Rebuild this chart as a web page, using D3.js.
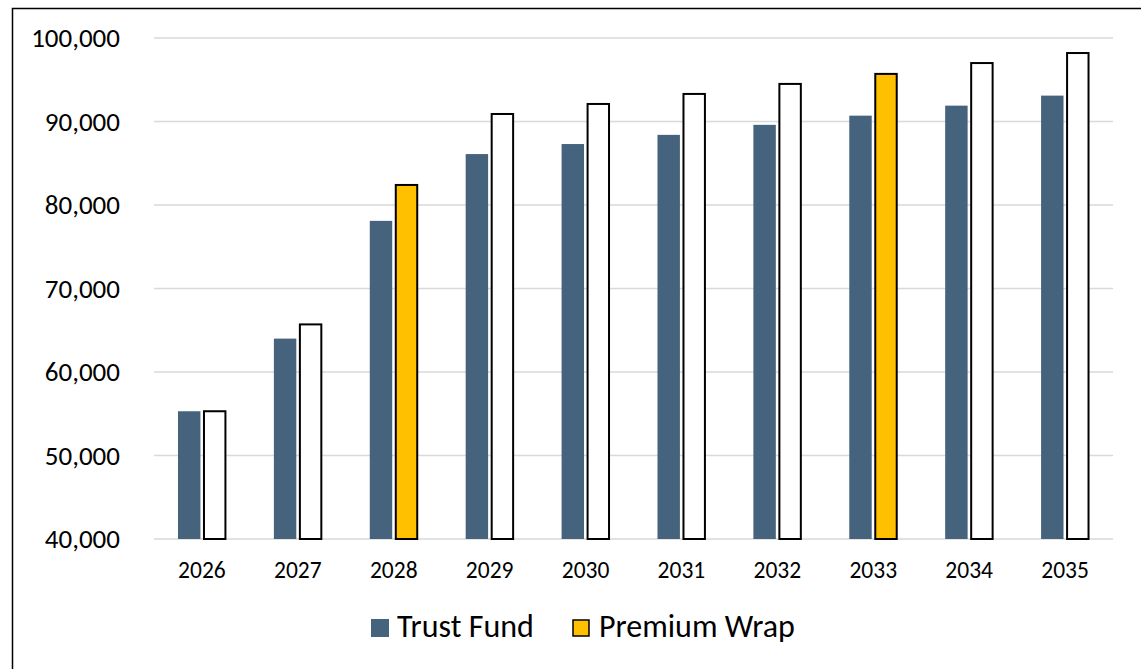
<!DOCTYPE html>
<html>
<head>
<meta charset="utf-8">
<script src="https://cdn.jsdelivr.net/npm/d3@7"></script>
<style>
  html, body { margin: 0; padding: 0; background: #fff; }
  svg { display: block; font-family: Carlito, Lato, "Open Sans", sans-serif; }
</style>
</head>
<body>
<svg id="chart" viewBox="0 0 1141 669" width="1141" height="669"></svg>
<script>
// chart data
const years = ["2026", "2027", "2028", "2029", "2030", "2031", "2032", "2033", "2034", "2035"];
const series = ["Trust Fund", "Premium Wrap"];
const trustFund = [55300, 64000, 78100, 86100, 87300, 88400, 89600, 90700, 91900, 93100];
const premiumWrap = [55300, 65700, 82400, 90900, 92100, 93300, 94500, 95700, 97000, 98200];
const highlightYears = ["2028", "2033"];
const yTicks = [40000, 50000, 60000, 70000, 80000, 90000, 100000];

const svg = d3.select("#chart");
const width = 1141, height = 669;

const colors = { "Trust Fund": "#46637D", "Premium Wrap": "#FFC000" };

// outer frame (runs past the right and bottom edge)
svg.append("rect")
    .attr("x", 12.5).attr("y", 8.5)
    .attr("width", width + 20).attr("height", height + 20)
    .attr("fill", "none")
    .attr("stroke", "#000")
    .attr("stroke-width", 1.5);

const plot = { left: 154, right: 1113, top: 38, bottom: 539 };

const y = d3.scaleLinear()
    .domain([40000, 100000])
    .range([plot.bottom, plot.top]);

const x0 = d3.scaleBand()
    .domain(years)
    .range([plot.left, plot.right])
    .paddingInner(0.5)
    .paddingOuter(0.25);

const x1 = d3.scaleBand()
    .domain(series)
    .range([0, x0.bandwidth()])
    .paddingInner(0.12);

// gridlines
svg.append("g")
    .selectAll("line")
    .data(yTicks)
    .join("line")
    .attr("x1", plot.left)
    .attr("x2", plot.right)
    .attr("y1", d => y(d))
    .attr("y2", d => y(d))
    .attr("stroke", "#D9D9D9")
    .attr("stroke-width", 1.5);

// y axis labels
const fmt = d3.format(",");
svg.append("g")
    .selectAll("text")
    .data(yTicks)
    .join("text")
    .attr("x", 120)
    .attr("y", d => y(d))
    .attr("dy", "0.35em")
    .attr("text-anchor", "end")
    .attr("font-size", 27)
    .attr("fill", "#000")
    .text(d => fmt(d));

// x axis labels
svg.append("g")
    .selectAll("text")
    .data(years)
    .join("text")
    .attr("x", d => x0(d) + x0.bandwidth() / 2)
    .attr("y", 578)
    .attr("text-anchor", "middle")
    .attr("font-size", 23.5)
    .attr("fill", "#000")
    .text(d => d);

// bars
const rows = years.map((yr, i) => ({ year: yr, values: [
    { key: "Trust Fund", value: trustFund[i] },
    { key: "Premium Wrap", value: premiumWrap[i] }
]}));

const groups = svg.append("g")
    .selectAll("g")
    .data(rows)
    .join("g")
    .attr("transform", d => `translate(${x0(d.year)},0)`);

groups.selectAll("rect")
    .data(d => d.values.map(v => ({ ...v, year: d.year })))
    .join("rect")
    .attr("x", d => x1(d.key) + (d.key === "Premium Wrap" ? 0.5 : 0))
    .attr("y", d => y(d.value))
    .attr("width", d => x1.bandwidth() - (d.key === "Premium Wrap" ? 1 : 0))
    .attr("height", d => y(40000) - y(d.value))
    .attr("fill", d => {
        if (d.key === "Trust Fund") return colors["Trust Fund"];
        return highlightYears.includes(d.year) ? colors["Premium Wrap"] : "#fff";
    })
    .attr("stroke", d => d.key === "Premium Wrap" ? "#000" : "none")
    .attr("stroke-width", 2);

// legend
const legendItems = [
    { key: "Trust Fund", x: 371, stroke: "none" },
    { key: "Premium Wrap", x: 572, stroke: "#000" }
];
const legend = svg.append("g")
    .selectAll("g")
    .data(legendItems)
    .join("g")
    .attr("transform", d => `translate(${d.x},619)`);

legend.append("rect")
    .attr("x", d => d.stroke === "none" ? 0 : 1)
    .attr("y", d => d.stroke === "none" ? 0 : 1)
    .attr("width", d => d.stroke === "none" ? 18 : 16)
    .attr("height", d => d.stroke === "none" ? 18 : 16)
    .attr("fill", d => colors[d.key])
    .attr("stroke", d => d.stroke)
    .attr("stroke-width", 1.5);

legend.append("text")
    .attr("x", d => d.stroke === "none" ? 26 : 27)
    .attr("y", 18)
    .attr("font-size", 32)
    .attr("fill", "#000")
    .text(d => d.key);
</script>
</body>
</html>
